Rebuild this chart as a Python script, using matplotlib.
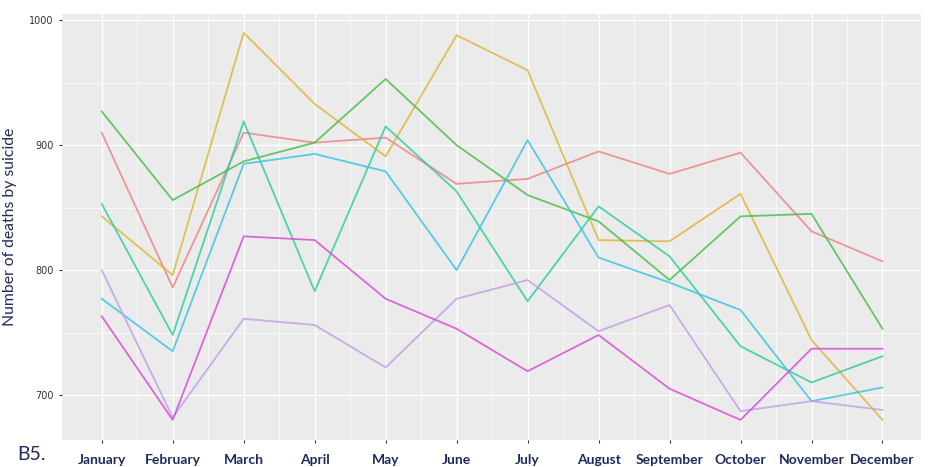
import numpy as np
import matplotlib.pyplot as plt
from matplotlib.ticker import MultipleLocator

months = ["January", "February", "March", "April", "May", "June", "July",
          "August", "September", "October", "November", "December"]

# one series per line
red = [910, 786, 910, 902, 906, 869, 873, 895, 877, 894, 831, 807]
gold = [843, 796, 990, 933, 891, 988, 960, 824, 823, 861, 744, 680]
green = [927, 856, 887, 902, 953, 900, 860, 839, 792, 843, 845, 753]
teal = [853, 748, 919, 783, 915, 863, 775, 851, 811, 739, 710, 731]
cyan = [777, 735, 885, 893, 879, 800, 904, 810, 790, 768, 695, 706]
magenta = [763, 680, 827, 824, 777, 753, 719, 748, 705, 680, 737, 737]
lavender = [800, 682, 761, 756, 722, 777, 792, 751, 772, 687, 695, 688]

series = [red, gold, green, teal, cyan, lavender, magenta]
colors = ["#EE8080", "#DDB530", "#45BB45", "#25CC9A", "#30C4E0", "#C09BE8", "#D645D6"]

navy = "#1F2A5C"
fig = plt.figure(figsize=(9.32, 4.67), dpi=100)
ax = fig.add_axes([0.0665, 0.058, 0.9215, 0.912])
ax.set_facecolor("#EBEBEB")

x = np.arange(len(months))
for vals, c in zip(series, colors):
    ax.plot(x, vals, color=c, lw=1.3, alpha=0.8)

ax.set_xlim(-0.56, 11.54)
ax.set_ylim(664, 1005)
ax.set_xticks(x)
ax.set_xticklabels(months, fontsize=10, color=navy, family="Lato", fontweight="bold")
ax.set_xticks(x[:-1] + 0.5, minor=True)
ax.yaxis.set_major_locator(MultipleLocator(100))
ax.yaxis.set_minor_locator(MultipleLocator(50))
ax.tick_params(axis="y", labelsize=7, colors="#333333", length=2.5)
ax.tick_params(axis="x", length=2.5, color="#333333", pad=8)
ax.tick_params(which="minor", length=0)
ax.grid(which="major", color="white", lw=1.0)
ax.grid(which="minor", color="white", lw=0.5)
ax.set_axisbelow(True)
for s in ax.spines.values():
    s.set_visible(False)

ax.set_ylabel("Number of deaths by suicide", fontsize=11.3, color=navy, family="Lato", labelpad=9)
fig.text(0.018, 0.015, "B5.", fontsize=14, color=navy, family="Lato")

fig.savefig("out.png", dpi=100)
